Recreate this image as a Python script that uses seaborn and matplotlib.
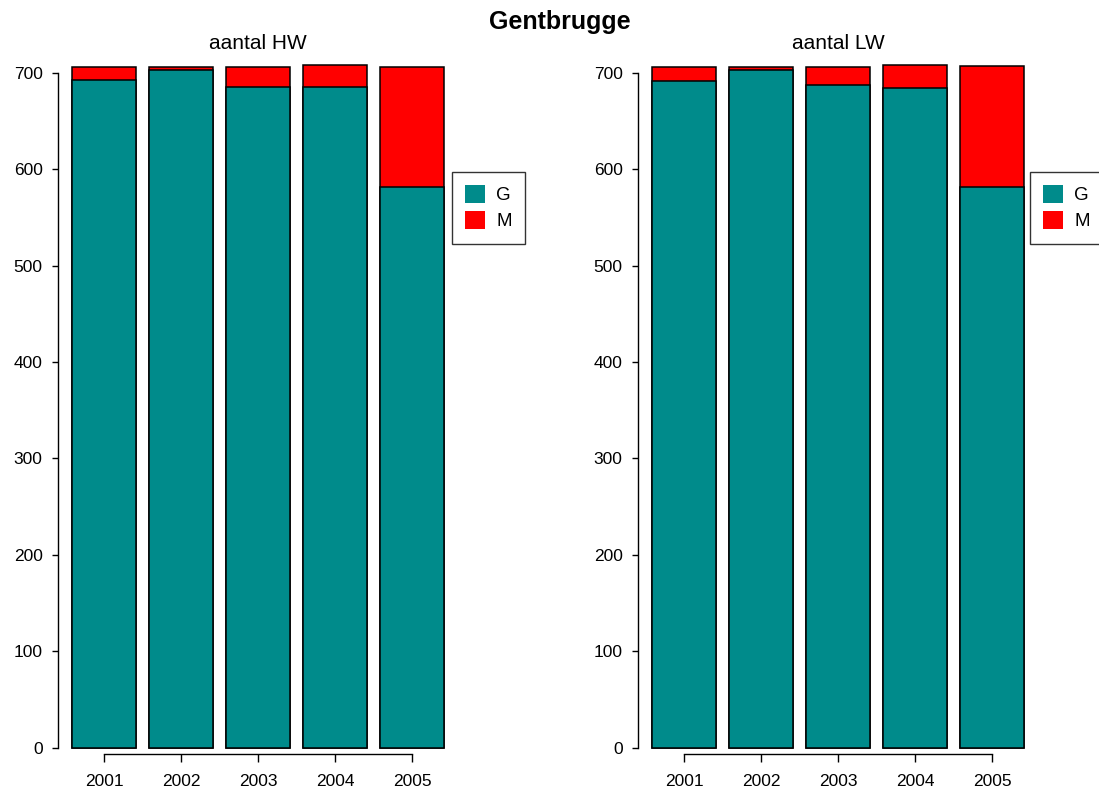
import numpy as np
import pandas as pd
import matplotlib
matplotlib.use("Agg")
import matplotlib.pyplot as plt
from matplotlib.patches import Patch
import seaborn as sns

# values
years = ["2001", "2002", "2003", "2004", "2005"]
hw_g = [692, 703, 685, 685, 581]
hw_m = [14, 3, 21, 23, 125]
lw_g = [691, 703, 687, 684, 581]
lw_m = [15, 3, 19, 24, 126]
y_ticks = [0, 100, 200, 300, 400, 500, 600, 700]

TEAL = "#008B8B"
RED = "#FF0000"

sns.set_style("white")
plt.rcParams["font.family"] = ["Liberation Sans", "DejaVu Sans"]
plt.rcParams["text.color"] = "black"
plt.rcParams["xtick.color"] = "black"
plt.rcParams["ytick.color"] = "black"

W, H = 1099, 791
fig = plt.figure(figsize=(W / 100, H / 100), dpi=100)

# plot regions in pixels
y_lo, y_hi = -6.5, 730
ax_w = 400
ax_h = (y_hi - y_lo) * 0.9643
bottom_px = 754

def make_ax(left_px):
    return fig.add_axes([left_px / W, (H - bottom_px) / H, ax_w / W, ax_h / H])

panels = [
    (58, "aantal HW", hw_g, hw_m, 452),
    (638, "aantal LW", lw_g, lw_m, 1030),
]

for left_px, title, g, m, leg_x in panels:
    ax = make_ax(left_px)
    df = pd.DataFrame({"year": years, "G": g, "M": m})
    df["total"] = df["G"] + df["M"]

    # stacked: full bar in red, G part drawn over it
    sns.barplot(data=df, x="year", y="total", color=RED, saturation=1,
                width=0.83, edgecolor="black", linewidth=1.1, ax=ax)
    sns.barplot(data=df, x="year", y="G", color=TEAL, saturation=1,
                width=0.83, edgecolor="black", linewidth=1.1, ax=ax)

    ax.set_xlim(-0.597, 4.597)
    ax.set_ylim(y_lo, y_hi)
    ax.set_yticks(y_ticks)
    ax.set_xlabel("")
    ax.set_ylabel("")
    for s in ["top", "right"]:
        ax.spines[s].set_visible(False)
    ax.spines["left"].set_bounds(0, 700)
    ax.spines["bottom"].set_bounds(0, 4)
    for s in ["left", "bottom"]:
        ax.spines[s].set_color("black")
        ax.spines[s].set_linewidth(1.0)
    ax.tick_params(axis="x", bottom=True, direction="out", length=5.5,
                   width=1.0, color="black", labelcolor="black", pad=9,
                   labelsize=12.5)
    ax.tick_params(axis="y", left=True, direction="out", length=4,
                   width=1.0, color="black", labelcolor="black", pad=7,
                   labelsize=12.5)
    ax.set_facecolor("none")

    ax.text(0.5, 1.0, title, transform=ax.transAxes, ha="center",
            va="center", fontsize=15, color="black")

    handles = [Patch(facecolor=TEAL, edgecolor="none", label="G"),
               Patch(facecolor=RED, edgecolor="none", label="M")]
    leg = fig.legend(handles=handles, loc="upper left",
                     bbox_to_anchor=(leg_x / W, 1 - 172 / H),
                     frameon=True, fancybox=False, fontsize=13.5,
                     handlelength=1.05, handleheight=1.1, handletextpad=0.6,
                     borderpad=0.7, labelspacing=0.35, borderaxespad=0)
    leg.get_frame().set_edgecolor("black")
    leg.get_frame().set_linewidth(1.0)
    for t in leg.get_texts():
        t.set_color("black")

fig.suptitle("Gentbrugge", x=560 / W, y=1 - 22 / H, va="center",
             fontsize=18, fontweight="bold", color="black")

fig.savefig("out.png", dpi=100)
